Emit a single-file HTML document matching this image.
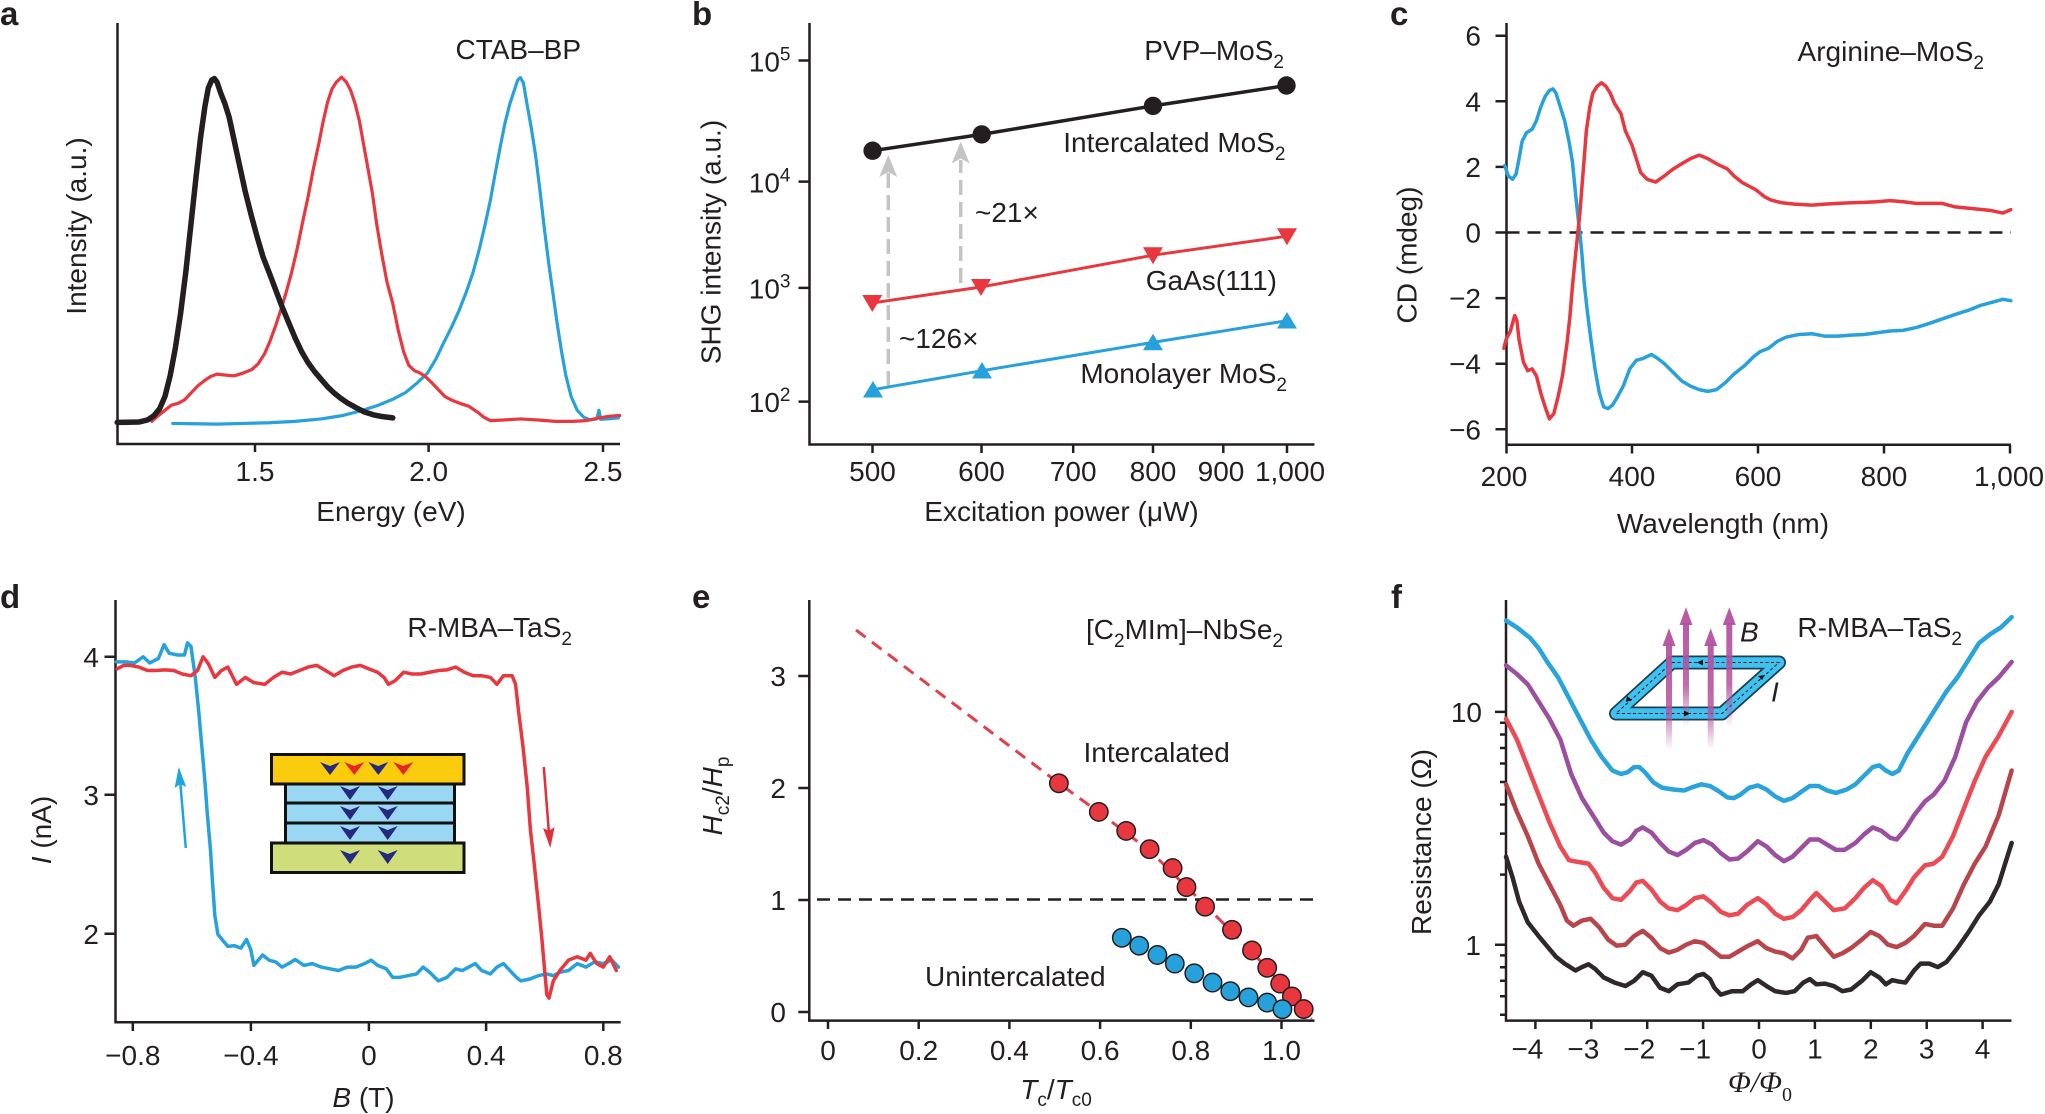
<!DOCTYPE html>
<html><head><meta charset="utf-8"><style>
html,body{margin:0;padding:0;background:#fff;}
svg{display:block;}
text{font-family:"Liberation Sans",Arial,sans-serif;font-size:28px;fill:#231f20;}
.lab{font-weight:bold;font-size:33px;}
.ax{stroke:#231f20;stroke-width:2.5;fill:none;}
.c{fill:none;stroke-linejoin:round;stroke-linecap:round;}
</style></head><body>
<svg width="2045" height="1114" viewBox="0 0 2045 1114" xmlns="http://www.w3.org/2000/svg">
<defs>
<linearGradient id="mg" x1="0" y1="0" x2="0" y2="1">
<stop offset="0" stop-color="#b4529f" stop-opacity="0.95"/>
<stop offset="0.6" stop-color="#b4529f" stop-opacity="0.85"/>
<stop offset="1" stop-color="#b4529f" stop-opacity="0"/>
</linearGradient>
</defs>

<!-- Panel labels -->
<text class="lab" x="0" y="25">a</text>
<text class="lab" x="692" y="25">b</text>
<text class="lab" x="1390" y="25">c</text>
<text class="lab" x="0" y="608">d</text>
<text class="lab" x="692" y="608">e</text>
<text class="lab" x="1391" y="608">f</text>

<!-- ================= Panel a ================= -->
<path class="ax" d="M117.5,23 V445.2 M116.3,444 H620 M255,444 V452 M428.6,444 V452 M603,444 V452"/>
<text x="255" y="481" text-anchor="middle">1.5</text>
<text x="428.6" y="481" text-anchor="middle">2.0</text>
<text x="603" y="481" text-anchor="middle">2.5</text>
<text x="391" y="521" text-anchor="middle">Energy (eV)</text>
<text transform="translate(86,226) rotate(-90)" text-anchor="middle">Intensity (a.u.)</text>
<text x="581" y="59" text-anchor="end">CTAB–BP</text>
<g transform="translate(0,0) scale(0.434,0.3448)">
<polyline class="c" vector-effect="non-scaling-stroke" stroke="#27a1dc" stroke-width="3.2" points="398,1228 450,1229 500,1230 560,1228 620,1226 680,1222 740,1215 790,1205 830,1192 870,1176 905,1158 935,1138 960,1112 985,1082 1005,1040 1020,1000 1040,950 1058,900 1075,845 1090,790 1105,720 1118,650 1130,580 1140,510 1152,430 1163,360 1175,300 1185,262 1193,232 1199,225 1206,240 1214,300 1224,370 1234,450 1244,550 1254,660 1264,760 1274,850 1284,940 1294,1020 1304,1090 1316,1150 1330,1190 1345,1210 1360,1218 1375,1215 1380,1190 1384,1216 1400,1215 1425,1212"/>
<polyline class="c" vector-effect="non-scaling-stroke" stroke="#e8373f" stroke-width="3.2" points="350,1222 365,1205 380,1190 395,1175 410,1170 425,1160 440,1140 455,1120 470,1105 485,1092 500,1085 520,1088 540,1090 560,1082 580,1072 595,1055 610,1025 622,990 635,945 648,895 660,845 672,790 685,720 698,640 710,570 722,490 734,420 745,350 755,295 765,258 775,238 787,224 798,238 808,262 818,300 828,350 838,420 848,490 858,560 868,650 880,740 892,820 905,880 918,960 930,1020 942,1060 955,1075 968,1082 980,1092 995,1110 1010,1130 1025,1150 1040,1160 1060,1170 1080,1178 1100,1195 1115,1210 1130,1220 1160,1218 1200,1215 1240,1218 1280,1222 1320,1222 1350,1220 1380,1212 1405,1207 1428,1205"/>
<polyline class="c" vector-effect="non-scaling-stroke" stroke="#231f20" stroke-width="5.5" points="270,1225 320,1224 340,1218 355,1205 368,1185 380,1150 392,1090 404,1010 416,910 428,790 440,650 452,510 462,400 472,310 480,255 488,232 494,228 500,238 508,268 518,300 528,340 540,410 552,480 565,555 578,620 592,685 606,745 620,790 635,840 650,890 665,935 680,980 695,1020 710,1052 725,1078 740,1100 755,1122 770,1140 785,1155 800,1168 820,1182 840,1195 860,1203 880,1208 905,1212"/>
</g>

<!-- ================= Panel b ================= -->
<path class="ax" d="M809.5,23 V445.7 M808.3,444.5 H1314.5 M798.5,60.5 H809.5 M798.5,181.6 H809.5 M798.5,287.9 H809.5 M798.5,401.6 H809.5 M872.5,444.5 V453 M981.5,444.5 V453 M1073.2,444.5 V453 M1153,444.5 V453 M1223.3,444.5 V453 M1287,444.5 V453"/>
<text x="790.5" y="71.5" text-anchor="end">10<tspan font-size="19" dy="-11">5</tspan></text>
<text x="790.5" y="192.5" text-anchor="end">10<tspan font-size="19" dy="-11">4</tspan></text>
<text x="790.5" y="298.5" text-anchor="end">10<tspan font-size="19" dy="-11">3</tspan></text>
<text x="790.5" y="412" text-anchor="end">10<tspan font-size="19" dy="-11">2</tspan></text>
<text x="872.5" y="481" text-anchor="middle">500</text>
<text x="981.5" y="481" text-anchor="middle">600</text>
<text x="1073.2" y="481" text-anchor="middle">700</text>
<text x="1153" y="481" text-anchor="middle">800</text>
<text x="1221" y="481" text-anchor="middle">900</text>
<text x="1290" y="481" text-anchor="middle">1,000</text>
<text x="1061.5" y="521" text-anchor="middle">Excitation power (μW)</text>
<text transform="translate(720.5,242) rotate(-90)" text-anchor="middle">SHG intensity (a.u.)</text>
<!-- gray arrows -->
<g stroke="#c4c4c4" stroke-width="3.5" fill="none" stroke-dasharray="15,7">
<line x1="888.3" y1="386" x2="888.3" y2="172"/>
<line x1="960.7" y1="283" x2="960.7" y2="160"/>
</g>
<polygon fill="#c4c4c4" points="888.3,155 897.3,177 888.3,172 879.3,177"/>
<polygon fill="#c4c4c4" points="960.7,141.7 969.7,163.5 960.7,158.5 951.7,163.5"/>
<!-- lines -->
<polyline class="c" stroke="#231f20" stroke-width="3.5" points="872.6,150.7 981.7,134.4 1153,105.9 1286.5,85.5"/>
<polyline class="c" stroke="#e8373f" stroke-width="3" points="872.3,303 981,287 1153,255.2 1287,236.2"/>
<polyline class="c" stroke="#27a1dc" stroke-width="3" points="873,389.7 982,370.7 1153,342.4 1287,320.7"/>
<g fill="#231f20">
<circle cx="872.6" cy="150.7" r="9.2"/><circle cx="981.7" cy="134.4" r="9.2"/><circle cx="1153" cy="105.9" r="9.2"/><circle cx="1286.5" cy="85.5" r="9.2"/>
</g>
<g fill="#e8373f">
<polygon points="862.3,295 882.3,295 872.3,312"/>
<polygon points="971,279 991,279 981,296"/>
<polygon points="1143,247.2 1163,247.2 1153,264.2"/>
<polygon points="1277,228.2 1297,228.2 1287,245.2"/>
</g>
<g fill="#27a1dc">
<polygon points="863,397.5 883,397.5 873,381"/>
<polygon points="972,378.5 992,378.5 982,362"/>
<polygon points="1143,350.2 1163,350.2 1153,333.7"/>
<polygon points="1277,328.5 1297,328.5 1287,312"/>
</g>
<text x="1284" y="60" text-anchor="end">PVP–MoS<tspan font-size="19" dy="8">2</tspan></text>
<text x="1285.5" y="152" text-anchor="end">Intercalated MoS<tspan font-size="19" dy="8">2</tspan></text>
<text x="1277" y="290" text-anchor="end">GaAs(111)</text>
<text x="1287" y="383" text-anchor="end">Monolayer MoS<tspan font-size="19" dy="8">2</tspan></text>
<text x="975" y="222">~21×</text>
<text x="899" y="348">~126×</text>

<!-- ================= Panel c ================= -->
<path class="ax" d="M1506.5,23 V446 M1505.3,444.8 H2011 M1495.5,35.7 H1506.5 M1495.5,101.3 H1506.5 M1495.5,166.9 H1506.5 M1495.5,232.5 H1506.5 M1495.5,298.1 H1506.5 M1495.5,363.7 H1506.5 M1495.5,429.3 H1506.5 M1506.5,444.8 V453.5 M1632,444.8 V453.5 M1758,444.8 V453.5 M1884,444.8 V453.5 M2010,444.8 V453.5"/>
<text x="1481" y="45.7" text-anchor="end">6</text>
<text x="1481" y="111.3" text-anchor="end">4</text>
<text x="1481" y="176.9" text-anchor="end">2</text>
<text x="1481" y="242.5" text-anchor="end">0</text>
<text x="1481" y="308.1" text-anchor="end">−2</text>
<text x="1481" y="373.7" text-anchor="end">−4</text>
<text x="1481" y="439.3" text-anchor="end">−6</text>
<text x="1504" y="486" text-anchor="middle">200</text>
<text x="1632" y="486" text-anchor="middle">400</text>
<text x="1758" y="486" text-anchor="middle">600</text>
<text x="1884" y="486" text-anchor="middle">800</text>
<text x="2009" y="486" text-anchor="middle">1,000</text>
<text x="1723" y="533" text-anchor="middle">Wavelength (nm)</text>
<text transform="translate(1416.5,255) rotate(-90)" text-anchor="middle">CD (mdeg)</text>
<text x="1984" y="61" text-anchor="end">Arginine–MoS<tspan font-size="19" dy="8">2</tspan></text>
<line x1="1506.5" y1="232.5" x2="2011" y2="232.5" stroke="#231f20" stroke-width="2.5" stroke-dasharray="13,8"/>
<g transform="translate(1365,0) scale(0.434,0.3448)">
<polyline class="c" vector-effect="non-scaling-stroke" stroke="#27a1dc" stroke-width="3.5" points="322,480 330,510 340,520 348,505 355,460 362,410 372,385 385,375 395,350 405,310 415,280 425,262 433,258 440,270 450,310 460,350 470,410 478,470 485,560 490,620 495,675 500,740 505,820 512,900 520,980 530,1070 540,1140 550,1180 560,1185 570,1175 580,1155 595,1120 610,1070 625,1045 640,1040 660,1028 675,1040 690,1055 710,1080 730,1105 750,1120 770,1130 790,1135 810,1130 830,1110 850,1085 875,1060 895,1035 910,1020 930,1010 950,990 970,978 1000,970 1030,968 1060,975 1090,975 1120,972 1150,970 1180,965 1210,960 1240,958 1270,950 1300,938 1330,925 1360,912 1390,900 1420,885 1450,875 1470,868 1488,872"/>
<polyline class="c" vector-effect="non-scaling-stroke" stroke="#e8373f" stroke-width="3.5" points="320,1010 325,985 335,960 345,915 350,930 355,985 365,1050 375,1075 385,1070 395,1090 405,1140 415,1180 425,1215 435,1200 445,1150 455,1090 465,1000 472,920 478,830 485,740 490,680 495,620 500,540 505,460 510,380 518,310 525,270 535,250 545,240 555,250 565,270 575,300 590,330 600,380 615,420 625,460 635,500 650,520 670,528 690,510 710,490 730,475 750,460 770,450 790,460 810,475 835,490 850,510 870,530 900,550 920,570 935,580 960,588 990,592 1030,595 1060,592 1090,590 1120,588 1150,587 1180,585 1210,582 1240,585 1270,590 1300,590 1330,590 1360,600 1400,605 1440,610 1470,618 1488,608"/>
</g>

<!-- ================= Panel d ================= -->
<path class="ax" d="M115.5,600 V1023.5 M114.3,1022.3 H620.7 M104.5,656.8 H115.5 M104.5,794.8 H115.5 M104.5,933.7 H115.5 M132.8,1022.3 V1031 M250.9,1022.3 V1031 M368.9,1022.3 V1031 M486.1,1022.3 V1031 M603.3,1022.3 V1031"/>
<text x="99" y="667" text-anchor="end">4</text>
<text x="99" y="805" text-anchor="end">3</text>
<text x="99" y="944" text-anchor="end">2</text>
<text x="132.8" y="1065" text-anchor="middle">−0.8</text>
<text x="250.9" y="1065" text-anchor="middle">−0.4</text>
<text x="368.9" y="1065" text-anchor="middle">0</text>
<text x="486.1" y="1065" text-anchor="middle">0.4</text>
<text x="603.3" y="1065" text-anchor="middle">0.8</text>
<text x="363.5" y="1107" text-anchor="middle"><tspan font-style="italic">B</tspan> (T)</text>
<text transform="translate(51,830) rotate(-90)" text-anchor="middle"><tspan font-style="italic">I</tspan> (nA)</text>
<text x="572" y="637" text-anchor="end">R-MBA–TaS<tspan font-size="19" dy="8">2</tspan></text>
<g transform="translate(0,574) scale(0.434,0.3448)">
<polyline class="c" vector-effect="non-scaling-stroke" stroke="#27a1dc" stroke-width="3.5" points="268,255 290,255 310,258 330,240 345,258 365,245 378,205 390,230 410,235 425,235 432,200 440,210 450,300 458,400 465,500 472,600 478,700 485,800 490,900 495,990 502,1045 515,1065 525,1080 540,1078 555,1085 568,1060 578,1090 585,1135 595,1120 605,1105 620,1120 635,1125 650,1140 665,1130 680,1118 700,1135 720,1130 740,1140 760,1145 780,1150 800,1140 820,1140 840,1130 855,1120 870,1135 890,1145 905,1170 920,1170 940,1165 960,1160 975,1140 990,1155 1010,1180 1030,1170 1050,1145 1065,1150 1080,1140 1095,1130 1110,1150 1130,1160 1145,1140 1160,1130 1175,1150 1190,1170 1200,1180 1220,1175 1240,1165 1260,1160 1275,1165 1290,1155 1310,1150 1330,1130 1350,1140 1370,1125 1390,1130 1410,1120 1425,1140"/>
<polyline class="c" vector-effect="non-scaling-stroke" stroke="#e8373f" stroke-width="3.5" points="270,275 285,265 300,265 320,270 340,280 360,280 380,278 400,280 420,290 440,295 455,280 468,240 480,260 495,300 510,280 525,270 545,320 565,300 585,315 610,320 630,300 650,285 670,290 690,280 710,270 730,265 750,280 770,295 790,280 810,270 830,265 850,275 870,285 885,300 895,320 910,310 930,285 950,290 970,290 990,285 1010,280 1030,278 1050,270 1070,285 1090,295 1110,295 1130,300 1145,320 1160,295 1180,295 1188,320 1195,400 1205,500 1215,620 1222,740 1230,830 1240,950 1248,1050 1255,1150 1260,1220 1265,1230 1275,1180 1290,1150 1310,1120 1330,1110 1350,1120 1360,1100 1375,1130 1390,1140 1405,1110 1420,1150"/>
</g>
<!-- arrows -->
<line x1="185.8" y1="848" x2="180.4" y2="784" stroke="#1ba6e0" stroke-width="2.5"/>
<polygon fill="#1ba6e0" points="178.8,767 186.2,787 180.3,784 174.6,788"/>
<line x1="543.8" y1="767" x2="548.8" y2="831" stroke="#e52d38" stroke-width="2.5"/>
<polygon fill="#e52d38" points="550.3,848 543.1,828 548.9,831 554.6,827"/>
<!-- layer inset -->
<g stroke="#111" stroke-width="3">
<rect x="271.5" y="754.5" width="192.5" height="29.5" fill="#fbcc0d"/>
<rect x="285.5" y="784" width="169" height="19" fill="#99d7f3"/>
<rect x="285.5" y="803" width="169" height="20" fill="#99d7f3"/>
<rect x="285.5" y="823" width="169" height="20" fill="#99d7f3"/>
<rect x="271.5" y="843" width="192.5" height="29.5" fill="#cfde7a"/>
</g>
<g fill="#262a7f">
<polygon points="320,762 330,766 340,762 330,775"/>
<polygon points="368.3,762 378.3,766 388.3,762 378.3,775"/>
<polygon points="340,786 350,790 360,786 350,800"/>
<polygon points="377.7,786 387.7,790 397.7,786 387.7,800"/>
<polygon points="340,806 350,810 360,806 350,820"/>
<polygon points="377.7,806 387.7,810 397.7,806 387.7,820"/>
<polygon points="340,826 350,830 360,826 350,840"/>
<polygon points="377.7,826 387.7,830 397.7,826 387.7,840"/>
<polygon points="340,850 350,854 360,850 350,864"/>
<polygon points="377.7,850 387.7,854 397.7,850 387.7,864"/>
</g>
<g fill="#e8242a">
<polygon points="344.3,762 354.3,766 364.3,762 354.3,775"/>
<polygon points="393.3,762 403.3,766 413.3,762 403.3,775"/>
</g>

<!-- ================= Panel e ================= -->
<path class="ax" d="M809.3,600 V1021.8 M808,1020.6 H1314.5 M798.3,1012 H809.3 M798.3,900 H809.3 M798.3,788 H809.3 M798.3,676 H809.3 M828,1020.6 V1029 M918.7,1020.6 V1029 M1009.4,1020.6 V1029 M1100.1,1020.6 V1029 M1190.8,1020.6 V1029 M1281.5,1020.6 V1029"/>
<text x="786" y="1022" text-anchor="end">0</text>
<text x="786" y="910" text-anchor="end">1</text>
<text x="786" y="798" text-anchor="end">2</text>
<text x="786" y="686" text-anchor="end">3</text>
<text x="828" y="1060" text-anchor="middle">0</text>
<text x="918.7" y="1060" text-anchor="middle">0.2</text>
<text x="1009.4" y="1060" text-anchor="middle">0.4</text>
<text x="1100.1" y="1060" text-anchor="middle">0.6</text>
<text x="1190.8" y="1060" text-anchor="middle">0.8</text>
<text x="1281.5" y="1060" text-anchor="middle">1.0</text>
<text x="1056" y="1099" text-anchor="middle"><tspan font-style="italic">T</tspan><tspan font-size="19" dy="7">c</tspan><tspan dy="-7">/</tspan><tspan font-style="italic">T</tspan><tspan font-size="19" dy="7">c0</tspan></text>
<text transform="translate(722,796) rotate(-90)" text-anchor="middle"><tspan font-style="italic">H</tspan><tspan font-size="19" dy="7">c2</tspan><tspan dy="-7">/</tspan><tspan font-style="italic">H</tspan><tspan font-size="19" dy="7">p</tspan></text>
<text x="1283" y="639" text-anchor="end">[C<tspan font-size="19" dy="8">2</tspan><tspan dy="-8">MIm]–NbSe</tspan><tspan font-size="19" dy="8">2</tspan></text>
<text x="1083.5" y="762">Intercalated</text>
<text x="925" y="986">Unintercalated</text>
<line x1="817" y1="899.5" x2="1314" y2="899.5" stroke="#231f20" stroke-width="2.5" stroke-dasharray="13,8"/>
<polyline fill="none" stroke="#e2404a" stroke-width="3" stroke-dasharray="12,8" points="856,630 1058.9,783.3 1100,813 1150,851 1200,900 1250,950 1280,982 1311.5,1019"/>
<g fill="#e8373f" stroke="#231f20" stroke-width="1.5">
<circle cx="1058.9" cy="783.3" r="9.2"/><circle cx="1098.8" cy="811.9" r="9.2"/><circle cx="1126.2" cy="830.9" r="9.2"/><circle cx="1149.6" cy="849.2" r="9.2"/><circle cx="1172.6" cy="868.1" r="9.2"/><circle cx="1186.5" cy="887.1" r="9.2"/><circle cx="1205.1" cy="906.7" r="9.2"/><circle cx="1232" cy="929.8" r="9.2"/><circle cx="1252" cy="950.5" r="9.2"/><circle cx="1267.2" cy="967.8" r="9.2"/><circle cx="1280.2" cy="983.6" r="9.2"/><circle cx="1291.9" cy="996.4" r="9.2"/><circle cx="1303.7" cy="1009.1" r="9.2"/>
</g>
<g fill="#27a1dc" stroke="#231f20" stroke-width="1.5">
<circle cx="1121.8" cy="937.8" r="9.2"/><circle cx="1139.2" cy="945.7" r="9.2"/><circle cx="1157.4" cy="955" r="9.2"/><circle cx="1174.8" cy="963.6" r="9.2"/><circle cx="1194.3" cy="973.3" r="9.2"/><circle cx="1212.5" cy="982.6" r="9.2"/><circle cx="1230.3" cy="991.2" r="9.2"/><circle cx="1248.5" cy="997.4" r="9.2"/><circle cx="1267.2" cy="1002.6" r="9.2"/><circle cx="1282.4" cy="1009.2" r="9.2"/>
</g>

<!-- ================= Panel f ================= -->
<path class="ax" d="M1506,600 V1021.8 M1504.8,1020.6 H2011.5 M1495,711.9 H1506 M1495,944.7 H1506 M1500,1014.8 H1506 M1500,996.3 H1506 M1500,980.8 H1506 M1500,967.3 H1506 M1500,955.4 H1506 M1500,874.6 H1506 M1500,833.6 H1506 M1500,804.5 H1506 M1500,782 H1506 M1500,763.5 H1506 M1500,748 H1506 M1500,734.5 H1506 M1500,722.7 H1506 M1535.4,1020.6 V1029 M1591.3,1020.6 V1029 M1647.2,1020.6 V1029 M1703.1,1020.6 V1029 M1759,1020.6 V1029 M1814.9,1020.6 V1029 M1870.8,1020.6 V1029 M1926.7,1020.6 V1029 M1982.6,1020.6 V1029"/>
<text x="1482" y="722" text-anchor="end">10</text>
<text x="1481" y="955" text-anchor="end">1</text>
<text x="1543.4" y="1058.5" text-anchor="end">−4</text>
<text x="1599.3" y="1058.5" text-anchor="end">−3</text>
<text x="1655.2" y="1058.5" text-anchor="end">−2</text>
<text x="1711.1" y="1058.5" text-anchor="end">−1</text>
<text x="1759" y="1058.5" text-anchor="middle">0</text>
<text x="1814.9" y="1058.5" text-anchor="middle">1</text>
<text x="1870.8" y="1058.5" text-anchor="middle">2</text>
<text x="1926.7" y="1058.5" text-anchor="middle">3</text>
<text x="1982.6" y="1058.5" text-anchor="middle">4</text>
<text x="1760" y="1092" text-anchor="middle" style="font-family:'Liberation Serif',serif;font-style:italic;font-size:30px">Φ/Φ<tspan font-style="normal" font-size="20" dy="9">0</tspan></text>
<text transform="translate(1431,842) rotate(-90)" text-anchor="middle">Resistance (Ω)</text>
<text x="1962" y="637" text-anchor="end">R-MBA–TaS<tspan font-size="19" dy="8">2</tspan></text>
<g transform="translate(1365,574) scale(0.434,0.3448)">
<polyline class="c" vector-effect="non-scaling-stroke" stroke="#2e2828" stroke-width="4.5" points="325,820 340,880 355,950 375,1010 400,1050 420,1080 440,1110 460,1130 485,1150 500,1140 515,1132 530,1145 550,1170 575,1185 600,1195 620,1180 640,1155 660,1165 680,1200 700,1210 720,1190 745,1185 765,1165 780,1160 795,1175 805,1200 820,1220 845,1210 870,1210 890,1190 905,1178 925,1195 945,1210 970,1215 990,1210 1010,1185 1025,1175 1040,1190 1060,1188 1080,1195 1100,1210 1120,1205 1145,1180 1165,1155 1185,1170 1200,1190 1215,1178 1230,1182 1245,1185 1265,1150 1280,1130 1300,1130 1320,1140 1340,1125 1365,1085 1390,1040 1415,990 1440,950 1460,900 1490,780"/>
<polyline class="c" vector-effect="non-scaling-stroke" stroke="#b8454b" stroke-width="4.5" points="325,610 350,690 375,760 400,840 425,900 450,960 465,1005 480,1020 500,1005 520,1000 540,1025 560,1060 580,1078 600,1075 620,1050 640,1035 660,1055 680,1085 700,1098 720,1090 740,1075 760,1065 780,1070 800,1090 820,1110 840,1110 860,1095 880,1080 905,1065 925,1085 945,1095 965,1100 985,1115 1005,1090 1020,1055 1040,1050 1060,1080 1080,1110 1100,1100 1120,1085 1145,1060 1165,1038 1185,1050 1205,1075 1225,1082 1245,1070 1265,1050 1290,1015 1310,1020 1330,1020 1355,970 1380,900 1405,840 1430,790 1460,700 1490,570"/>
<polyline class="c" vector-effect="non-scaling-stroke" stroke="#ec4b55" stroke-width="4.5" points="325,420 350,480 375,560 400,640 425,720 450,790 470,830 490,835 515,840 530,865 550,910 570,940 590,945 610,920 625,895 640,890 660,915 680,950 700,970 720,975 740,960 760,940 780,935 800,955 820,980 840,990 860,985 880,960 905,940 925,958 945,985 965,1000 985,995 1005,975 1025,945 1040,925 1060,950 1080,975 1105,970 1130,940 1150,910 1170,888 1190,905 1210,945 1225,955 1245,920 1265,880 1290,845 1310,840 1330,820 1355,760 1380,680 1405,600 1430,530 1460,470 1490,400"/>
<polyline class="c" vector-effect="non-scaling-stroke" stroke="#9c4e9f" stroke-width="4.5" points="325,265 350,290 375,320 400,370 425,420 450,480 475,580 500,650 525,700 550,750 570,775 590,785 610,770 625,745 640,735 660,750 680,780 700,805 720,815 740,800 760,780 780,772 800,785 820,810 840,828 860,825 880,805 905,775 925,790 945,815 965,833 985,820 1005,795 1025,770 1045,770 1065,785 1085,800 1105,800 1130,780 1150,755 1170,735 1190,745 1210,765 1225,770 1245,740 1265,700 1290,660 1310,640 1335,600 1360,530 1385,430 1410,370 1435,330 1460,300 1490,255"/>
<polyline class="c" vector-effect="non-scaling-stroke" stroke="#29a3db" stroke-width="4.5" points="325,135 350,155 380,185 400,215 420,255 445,300 470,360 495,420 520,480 545,530 570,570 590,580 605,575 620,560 632,560 645,575 665,605 685,620 710,625 735,628 755,618 775,610 795,615 815,630 835,648 850,650 865,640 885,620 905,613 925,625 945,645 965,658 985,650 1005,632 1025,615 1045,615 1065,628 1085,635 1110,625 1130,610 1150,585 1170,560 1185,555 1200,570 1215,580 1230,570 1250,520 1270,480 1290,440 1315,390 1340,340 1365,300 1390,250 1415,200 1440,175 1465,155 1490,125"/>
</g>
<!-- loop inset -->
<path d="M1672,662.5 L1779,662.5 L1722,713.5 L1616,713.5 Z" fill="none" stroke="#1d3f55" stroke-width="14" stroke-linejoin="round"/>
<path d="M1672,662.5 L1779,662.5 L1722,713.5 L1616,713.5 Z" fill="none" stroke="#3ec3f0" stroke-width="10.5" stroke-linejoin="round"/>
<path d="M1672,662.5 L1779,662.5 L1722,713.5 L1616,713.5 Z" fill="none" stroke="#111" stroke-width="1" stroke-dasharray="3,2.5"/>
<g fill="url(#mg)">
<rect x="1666" y="644" width="6" height="106"/>
<rect x="1683" y="623" width="6" height="104"/>
<rect x="1707.7" y="644" width="6" height="106"/>
<rect x="1726.3" y="623" width="6" height="104"/>
</g>
<g fill="#b4529f" fill-opacity="0.95">
<polygon points="1669,628.3 1675.5,646 1662.5,646"/>
<polygon points="1686,607.3 1692.5,625 1679.5,625"/>
<polygon points="1710.7,628.3 1717.2,646 1704.2,646"/>
<polygon points="1729.3,607.3 1735.8,625 1722.8,625"/>
</g>
<g fill="#111">
<polygon points="1697,662.5 1703,659.5 1703,665.5"/>
<polygon points="1690,713.5 1684,710.5 1684,716.5"/>
<polygon points="1626,702 1627,696 1632,700"/>
<polygon points="1765,675 1758,676 1762,680"/>
</g>
<text x="1740" y="641.7" font-style="italic" font-size="22">B</text>
<text x="1771" y="701.7" font-style="italic" font-size="22">I</text>
</svg>
</body></html>
